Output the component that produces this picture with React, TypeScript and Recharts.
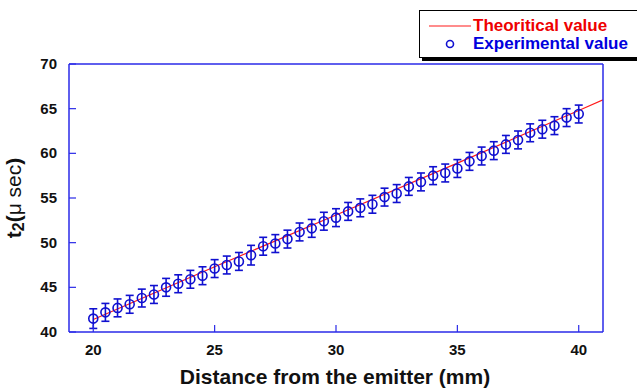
import { ComposedChart, XAxis, YAxis, Line, Scatter, ErrorBar } from 'recharts'

const DISTANCE = [
  20, 20.5, 21, 21.5, 22, 22.5, 23, 23.5, 24, 24.5, 25, 25.5, 26, 26.5, 27, 27.5, 28, 28.5, 29, 29.5,
  30, 30.5, 31, 31.5, 32, 32.5, 33, 33.5, 34, 34.5, 35, 35.5, 36, 36.5, 37, 37.5, 38, 38.5, 39, 39.5, 40,
]
const MEASURED = [
  41.5, 42.2, 42.7, 43.1, 43.8, 44.2, 45.0, 45.4, 45.9, 46.3, 47.1, 47.5, 47.9, 48.6, 49.6, 49.9, 50.4, 51.2, 51.6, 52.4,
  52.8, 53.5, 53.9, 54.3, 55.1, 55.5, 56.3, 56.8, 57.5, 57.8, 58.3, 59.1, 59.7, 60.3, 61.0, 61.5, 62.3, 62.7, 63.1, 64.0, 64.4,
]
const ERROR = [
  1.1, 1.0, 1.0, 1.0, 1.0, 1.0, 1.0, 1.0, 1.0, 1.0, 1.0, 1.0, 1.0, 1.1, 1.0, 1.0, 1.0, 1.0, 1.0, 1.0,
  1.0, 1.0, 1.0, 1.0, 1.0, 1.0, 1.0, 1.0, 1.0, 1.0, 1.0, 1.0, 1.0, 1.0, 1.0, 1.0, 1.0, 1.0, 1.0, 1.0, 1.0,
]
const THEORY_X = [20, 25, 30, 35, 40, 41]
const THEORY_Y = [41.4, 47.3, 53.1, 58.9, 64.8, 66.0]
const X_TICKS = [20, 25, 30, 35, 40]
const Y_TICKS = [40, 45, 50, 55, 60, 65, 70]

const experimental = DISTANCE.map((x, i) => ({ x, y: MEASURED[i], err: ERROR[i] }))
const theoretical = THEORY_X.map((x, i) => ({ x, y: THEORY_Y[i] }))

const AXIS_BLUE = '#2a2ae8'
const POINT_BLUE = '#1010d0'
const FONT = '"Liberation Sans", Arial, sans-serif'

const BottomTick = (props: any) => {
  const { x, y, payload } = props
  return (
    <g>
      <line x1={x} x2={x} y1={y} y2={y - 7} stroke={AXIS_BLUE} strokeWidth={1.2} />
      <text x={x} y={y + 23} textAnchor="middle" fontSize={15} fontWeight="bold" fill="#111" fontFamily={FONT}>
        {payload.value}
      </text>
    </g>
  )
}

const LeftTick = (props: any) => {
  const { x, y, payload } = props
  return (
    <g>
      <line x1={x} x2={x + 7} y1={y} y2={y} stroke={AXIS_BLUE} strokeWidth={1.2} />
      <text x={x - 12} y={y + 5} textAnchor="end" fontSize={15} fontWeight="bold" fill="#111" fontFamily={FONT}>
        {payload.value}
      </text>
    </g>
  )
}

const Ring = (props: any) => (
  <circle cx={props.cx} cy={props.cy} r={4.5} fill="none" stroke={POINT_BLUE} strokeWidth={1.6} />
)

export default function App() {
  return (
    <div style={{ position: 'absolute', left: 0, top: 0, width: 637, height: 389, background: '#fff', fontFamily: FONT }}>
      <ComposedChart width={637} height={389} margin={{ top: 64, right: 34, bottom: 27, left: 29 }}>
        <XAxis
          dataKey="x"
          type="number"
          domain={[19, 41]}
          ticks={X_TICKS}
          height={30}
          tickSize={0}
          tickMargin={0}
          tickLine={false}
          axisLine={{ stroke: AXIS_BLUE, strokeWidth: 1.5 }}
          tick={BottomTick}
          allowDataOverflow
        />
        <XAxis
          xAxisId="top"
          orientation="top"
          type="number"
          domain={[19, 41]}
          ticks={X_TICKS}
          mirror
          tick={false}
          tickSize={7}
          tickLine={{ stroke: AXIS_BLUE, strokeWidth: 1.2 }}
          axisLine={{ stroke: AXIS_BLUE, strokeWidth: 1.5 }}
          allowDataOverflow
        />
        <YAxis
          dataKey="y"
          type="number"
          domain={[40, 70]}
          ticks={Y_TICKS}
          width={40}
          tickSize={0}
          tickMargin={0}
          tickLine={false}
          axisLine={{ stroke: AXIS_BLUE, strokeWidth: 1.5 }}
          tick={LeftTick}
          allowDataOverflow
        />
        <YAxis
          yAxisId="right"
          orientation="right"
          type="number"
          domain={[40, 70]}
          ticks={Y_TICKS}
          mirror
          tick={false}
          tickSize={7}
          tickLine={{ stroke: AXIS_BLUE, strokeWidth: 1.2 }}
          axisLine={{ stroke: AXIS_BLUE, strokeWidth: 1.5 }}
          allowDataOverflow
        />
        <Line
          data={theoretical}
          dataKey="y"
          type="linear"
          stroke="#ff1a1a"
          strokeWidth={1.2}
          dot={false}
          isAnimationActive={false}
        />
        <Scatter data={experimental} dataKey="y" shape={Ring} isAnimationActive={false}>
          <ErrorBar dataKey="err" direction="y" width={4} stroke={POINT_BLUE} strokeWidth={1.6} />
        </Scatter>
      </ComposedChart>

      <div
        style={{
          position: 'absolute',
          left: 419,
          top: 10,
          width: 230,
          height: 46,
          border: '1px solid #000',
          boxShadow: '3px 3px 0 #000',
          background: '#fff',
        }}
      >
        <svg width={60} height={46} style={{ position: 'absolute', left: 0, top: 0 }}>
          <line x1={9} x2={51} y1={15} y2={15} stroke="#ff1a1a" strokeWidth={1.2} />
          <circle cx={30} cy={33} r={3.5} fill="none" stroke={POINT_BLUE} strokeWidth={1.6} />
        </svg>
        <div style={{ position: 'absolute', left: 53, top: 5, fontSize: 17, fontWeight: 'bold', color: '#ee0000', lineHeight: '20px' }}>
          Theoritical value
        </div>
        <div style={{ position: 'absolute', left: 53, top: 23, fontSize: 17, fontWeight: 'bold', color: '#0000dd', lineHeight: '20px' }}>
          Experimental value
        </div>
      </div>

      <div
        style={{
          position: 'absolute',
          left: 0,
          top: 366,
          width: 670,
          textAlign: 'center',
          fontSize: 21,
          fontWeight: 'bold',
          color: '#111',
          lineHeight: '22px',
        }}
      >
        Distance from the emitter (mm)
      </div>

      <div
        style={{
          position: 'absolute',
          left: 16,
          top: 198,
          transform: 'translate(-50%, -50%) rotate(-90deg)',
          whiteSpace: 'nowrap',
          fontSize: 21,
          fontWeight: 'bold',
          color: '#111',
          lineHeight: '22px',
        }}
      >
        t<sub style={{ fontSize: 16, verticalAlign: '-3px' }}>2</sub>(<span style={{ fontWeight: 'normal' }}>μ sec</span>)
      </div>
    </div>
  )
}
